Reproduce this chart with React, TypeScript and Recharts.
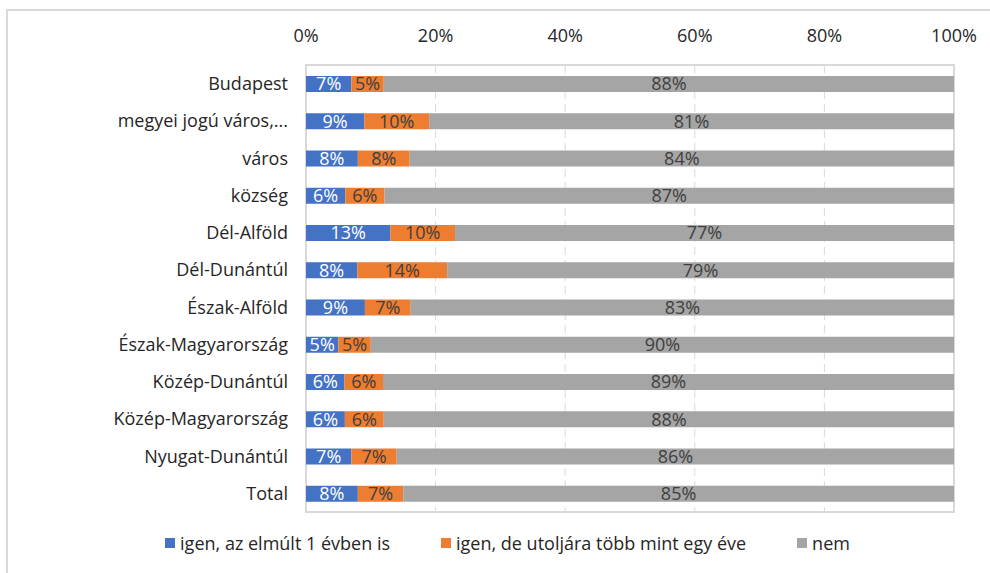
import { BarChart, Bar, XAxis, YAxis, CartesianGrid, LabelList, ReferenceArea } from 'recharts';

const categories = [
    'Budapest',
    'megyei jogú város,...',
    'város',
    'község',
    'Dél-Alföld',
    'Dél-Dunántúl',
    'Észak-Alföld',
    'Észak-Magyarország',
    'Közép-Dunántúl',
    'Közép-Magyarország',
    'Nyugat-Dunántúl',
    'Total',
];
const igenIdei = [7, 9, 8, 6, 13, 8, 9, 5, 6, 6, 7, 8];
const igenRegen = [5, 10, 8, 6, 10, 14, 7, 5, 6, 6, 7, 7];
const nem = [88, 81, 84, 87, 77, 79, 83, 90, 89, 88, 86, 85];
const xTicks = [0, 0.2, 0.4, 0.6, 0.8, 1];

const series = [
    { key: 'igenIdei', name: 'igen, az elmúlt 1 évben is', color: '#4472C4', text: '#ffffff' },
    { key: 'igenRegen', name: 'igen, de utoljára több mint egy éve', color: '#ED7D31', text: '#404040' },
    { key: 'nem', name: 'nem', color: '#A5A5A5', text: '#404040' },
];

const data = categories.map((c, i) => ({
    name: c,
    igenIdei: igenIdei[i],
    igenRegen: igenRegen[i],
    nem: nem[i],
}));

const FONT = '"Open Sans", sans-serif';

const LegendBox = () => (
    <div
        style={{
            position: 'absolute',
            left: 0,
            top: 531,
            width: 1015,
            display: 'flex',
            justifyContent: 'center',
            gap: 51,
            fontFamily: FONT,
            fontSize: 18,
            color: '#262626',
            lineHeight: '24px',
        }}
    >
        {series.map((s) => (
            <div key={s.key} style={{ display: 'flex', alignItems: 'center' }}>
                <span style={{ display: 'inline-block', width: 10, height: 10, background: s.color, marginRight: 5 }} />
                {s.name}
            </div>
        ))}
    </div>
);

export default function App() {
    return (
        <div style={{ position: 'absolute', left: 0, top: 0, width: 990, height: 573, overflow: 'hidden', background: '#fff' }}>
            <div style={{ position: 'absolute', left: 6, top: 9, width: 1000, height: 600, border: '2px solid #d9d9d9' }} />
            <div style={{ position: 'absolute', left: 0, top: 0 }}>
                <BarChart
                    width={990}
                    height={573}
                    data={data}
                    layout="vertical"
                    stackOffset="expand"
                    barSize={16}
                    margin={{ top: 0, right: 36, bottom: 61, left: 0 }}
                >
                    <CartesianGrid horizontal={false} stroke="#d9d9d9" strokeDasharray="8 5" />
                    <XAxis
                        type="number"
                        orientation="top"
                        domain={[0, 1]}
                        ticks={xTicks}
                        tickFormatter={(v) => `${Math.round(v * 100)}%`}
                        tick={{ fill: '#262626', fontSize: 18, fontFamily: FONT }}
                        tickLine={false}
                        axisLine={false}
                        tickSize={0}
                        tickMargin={23}
                        height={65}
                    />
                    <YAxis
                        type="category"
                        dataKey="name"
                        width={306}
                        interval={0}
                        tick={{ fill: '#262626', fontSize: 18, fontFamily: FONT }}
                        tickLine={false}
                        axisLine={false}
                        tickSize={0}
                        tickMargin={18}
                    />
                    <ReferenceArea x1={0} x2={1} fill="none" stroke="#d9d9d9" strokeWidth={2} ifOverflow="visible" />
                    {series.map((s) => (
                        <Bar key={s.key} dataKey={s.key} name={s.name} stackId="a" fill={s.color} isAnimationActive={false}>
                            <LabelList
                                dataKey={s.key}
                                position="center"
                                formatter={(v) => `${v}%`}
                                fill={s.text}
                                style={{ fontSize: 18, fontFamily: FONT }}
                            />
                        </Bar>
                    ))}
                </BarChart>
            </div>
            <LegendBox />
        </div>
    );
}
